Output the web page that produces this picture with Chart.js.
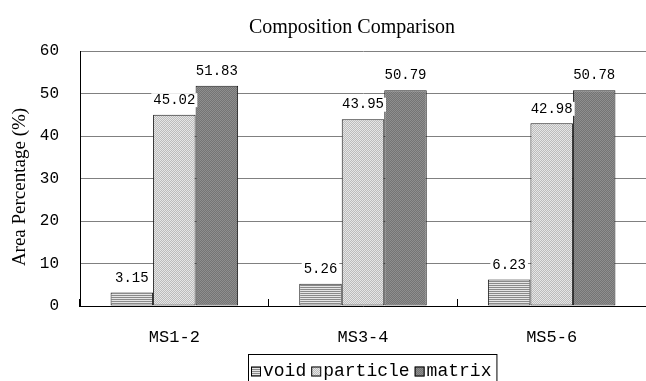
<!DOCTYPE html>
<html>
<head>
<meta charset="utf-8">
<script src="https://cdn.jsdelivr.net/npm/chart.js@4"></script>
<style>
  html, body { margin: 0; padding: 0; background: #fff; }
  canvas { display: block; }
</style>
</head>
<body>
<canvas id="chart" width="646" height="381"></canvas>
<script>
const categories = ['MS1-2', 'MS3-4', 'MS5-6'];
const seriesNames = ['void', 'particle', 'matrix'];
const voidVals = [3.15, 5.26, 6.23];
const particleVals = [45.02, 43.95, 42.98];
const matrixVals = [51.83, 50.79, 50.78];
const yMin = 0, yMax = 60, yStep = 10;
const chartTitle = 'Composition Comparison';
const yTitle = 'Area Percentage (%)';

// small bitmap fills imitating the office-style hatches
function makePattern(kind) {
  const c = document.createElement('canvas');
  c.width = 4; c.height = 4;
  const g = c.getContext('2d');
  if (kind === 'void') {
    for (let y = 0; y < 4; y++) {
      g.fillStyle = y % 2 ? '#8a8a8a' : '#e6e6e6';
      g.fillRect(0, y, 4, 1);
    }
  } else if (kind === 'particle') {
    for (let y = 0; y < 4; y++) for (let x = 0; x < 4; x++) {
      g.fillStyle = (x + y) % 2 ? '#bcbcbc' : '#e6e6e6';
      g.fillRect(x, y, 1, 1);
    }
  } else {
    for (let y = 0; y < 4; y++) for (let x = 0; x < 4; x++) {
      g.fillStyle = (x + y) % 2 ? '#747474' : '#8e8e8e';
      g.fillRect(x, y, 1, 1);
    }
  }
  return g.createPattern(c, 'repeat');
}

const valueLabels = {
  id: 'valueLabels',
  afterDatasetsDraw(chart) {
    const ctx = chart.ctx;
    ctx.save();
    ctx.font = '14px "Liberation Mono"';
    ctx.textAlign = 'center';
    ctx.textBaseline = 'middle';
    chart.data.datasets.forEach((ds, i) => {
      chart.getDatasetMeta(i).data.forEach((bar, j) => {
        const txt = ds.data[j].toFixed(2);
        const w = ctx.measureText(txt).width;
        const y = bar.y - 14.5;
        ctx.fillStyle = '#fff';
        ctx.fillRect(bar.x - w / 2 - 2, y - 7, w + 4, 14);
        ctx.fillStyle = '#000';
        ctx.fillText(txt, bar.x, y);
      });
    });
    ctx.restore();
  }
};

const extras = {
  id: 'extras',
  afterDraw(chart) {
    const ctx = chart.ctx;
    ctx.save();
    // title
    ctx.fillStyle = '#000';
    ctx.font = '20px "Liberation Serif"';
    ctx.textAlign = 'center';
    ctx.textBaseline = 'middle';
    ctx.fillText(chartTitle, 352, 28);
    // y axis title
    ctx.save();
    ctx.translate(20, 187);
    ctx.rotate(-Math.PI / 2);
    ctx.font = '19px "Liberation Serif"';
    ctx.fillText(yTitle, 0, 0);
    ctx.restore();
    // legend box
    ctx.font = '18px "Liberation Mono"';
    ctx.textAlign = 'left';
    const sw = 10, gap = 2, itemGap = 5;
    let total = 0;
    chart.data.datasets.forEach(ds => {
      total += sw + gap + ctx.measureText(ds.label).width + itemGap;
    });
    total -= itemGap;
    const boxL = 248, top = 354.5;
    const boxW = total + 8;
    ctx.strokeStyle = '#000';
    ctx.lineWidth = 1;
    ctx.strokeRect(boxL + 0.5, top, boxW, 40);
    let x = boxL + 3;
    const cy = 371.5;
    chart.data.datasets.forEach(ds => {
      ctx.fillStyle = ds.backgroundColor;
      ctx.fillRect(x, cy - 5, sw, sw);
      ctx.strokeStyle = '#000';
      ctx.strokeRect(x + 0.5, cy - 4.5, sw - 1, sw - 1);
      x += sw + gap;
      ctx.fillStyle = '#000';
      ctx.fillText(ds.label, x, cy);
      x += ctx.measureText(ds.label).width + itemGap;
    });
    ctx.restore();
  }
};

const ctx = document.getElementById('chart').getContext('2d');
new Chart(ctx, {
  type: 'bar',
  data: {
    labels: categories,
    datasets: [
      { label: seriesNames[0], data: voidVals, backgroundColor: makePattern('void') },
      { label: seriesNames[1], data: particleVals, backgroundColor: makePattern('particle') },
      { label: seriesNames[2], data: matrixVals, backgroundColor: makePattern('matrix') }
    ]
  },
  options: {
    responsive: false,
    animation: false,
    devicePixelRatio: 1,
    layout: { padding: { top: 51, right: 0, bottom: 0, left: 0 } },
    datasets: {
      bar: {
        borderColor: '#1a1a1a',
        borderWidth: 1,
        borderSkipped: false,
        categoryPercentage: 0.676,
        barPercentage: 1
      }
    },
    scales: {
      x: {
        offset: true,
        grid: { display: true, drawOnChartArea: false, drawTicks: true, tickLength: -7, tickColor: '#000' },
        border: { color: '#000', width: 1 },
        ticks: { color: '#000', font: { family: 'Liberation Mono', size: 17 }, padding: 28, maxRotation: 0 },
        afterFit: s => { s.height = 75; }
      },
      y: {
        min: yMin, max: yMax,
        ticks: { stepSize: yStep, color: '#000', font: { family: 'Liberation Mono', size: 16 }, padding: 21 },
        grid: { color: '#808080', drawTicks: false },
        border: { color: '#000', width: 1 },
        afterFit: s => { s.width = 80; }
      }
    },
    plugins: {
      legend: { display: false },
      tooltip: { enabled: false }
    }
  },
  plugins: [valueLabels, extras]
});
</script>
</body>
</html>
